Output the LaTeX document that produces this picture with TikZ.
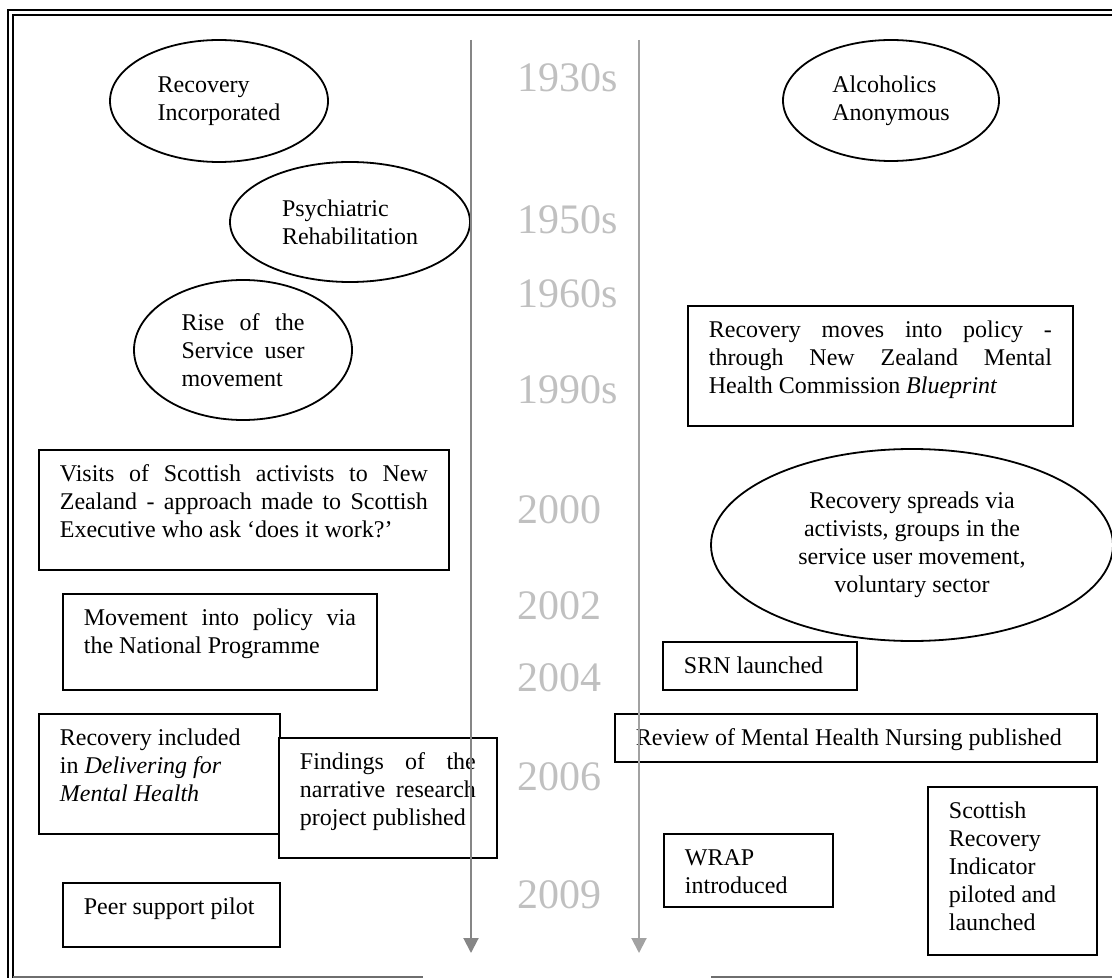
\documentclass[tikz,border=0pt]{standalone}
\usepackage{fontspec}
\setmainfont{Liberation Serif}
\usepackage{xcolor}
\usepackage{tikz}
\usetikzlibrary{shapes,arrows,arrows.meta}
\usetikzlibrary{shapes.geometric}
\definecolor{yeargray}{RGB}{192,192,192}
\definecolor{axisdark}{RGB}{134,134,134}
\definecolor{axislight}{RGB}{162,162,162}
\definecolor{rulegray}{RGB}{110,110,110}
\tikzset{
    ebox/.style={draw, ellipse, inner sep=0pt, line width=0.9pt, font=\fontsize{12}{14}\selectfont},
    tbox/.style={draw, rectangle, fill=white, anchor=north west, inner xsep=10.5pt, inner ysep=0pt, line width=0.9pt, font=\fontsize{12}{14}\selectfont},
    year/.style={anchor=base west, inner sep=0pt, text=yeargray, font=\fontsize{21}{24}\selectfont},
    timeline/.style={line width=1pt, -{Triangle[length=7.5pt,width=7.5pt]}}}
\newcommand{\boxtext}[3]{\parbox[c][#2][t]{#1}{\rule{0pt}{16pt}#3}}

\begin{document}
\begin{tikzpicture}[x=0.5pt,y=-0.5pt]
\useasboundingbox (0,0) rectangle (1112,978);
\draw[line width=1.1pt] (8,978) -- (8,10) -- (1112,10);
\draw[line width=0.7pt] (13,978) -- (13,15) -- (1112,15);
\draw[rulegray, line width=0.6pt] (13,977) -- (423,977);
\draw[rulegray, line width=0.6pt] (711,977) -- (1112,977);
\node[ebox, minimum width=109pt, minimum height=61pt, align=left] (recinc) at (219,101) {Recovery\\Incorporated};
\node[ebox, minimum width=120pt, minimum height=60pt, align=left] (psyreh) at (350,222) {Psychiatric\\Rehabilitation};
\node[ebox, minimum width=109pt, minimum height=70pt] (riseuser) at (243,350) {\parbox{61.5pt}{Rise of the\linebreak Service user\linebreak movement}};
\node[ebox, minimum width=108pt, minimum height=60.5pt, align=left] (alcanon) at (891,100.5) {Alcoholics\\Anonymous};
\node[ebox, minimum width=201pt, minimum height=96pt, align=center] (spreads) at (912,545) {Recovery spreads via\\activists, groups in the\\service user movement,\\voluntary sector};
\node[tbox] (visits) at (38,449) {\boxtext{184pt}{60pt}{Visits of Scottish activists to New\linebreak Zealand - approach made to Scottish\linebreak Executive who ask `does it work?'}};
\node[tbox] (nzpolicy) at (687,305) {\boxtext{171.5pt}{60pt}{Recovery moves into policy -\linebreak through New Zealand Mental\linebreak Health Commission \textit{Blueprint}}};
\node[tbox] (natprog) at (62,593) {\boxtext{136pt}{48pt}{Movement into policy via\linebreak the National Programme}};
\node[tbox] (srn) at (662,641) {\boxtext{76pt}{24pt}{SRN launched}};
\node[tbox] (delivering) at (38,713) {\boxtext{99.5pt}{60pt}{Recovery included\\ in \textit{Delivering for}\\ \textit{Mental Health}}};
\node[tbox] (findings) at (278,737) {\boxtext{88pt}{60pt}{Findings of the\linebreak narrative research\linebreak project published}};
\node[tbox] (review) at (614,713) {\boxtext{220pt}{24pt}{Review of Mental Health Nursing published}};
\node[tbox] (wrap) at (663,833) {\boxtext{63.5pt}{36.5pt}{WRAP\\ introduced}};
\node[tbox] (sri) at (927,786) {\boxtext{63.5pt}{84pt}{Scottish\\ Recovery\\ Indicator\\ piloted and\\ launched}};
\node[tbox] (peer) at (62,882) {\boxtext{87.5pt}{32pt}{Peer support pilot}};
\node[year] (y1930) at (517,92) {1930s};
\node[year] (y1950) at (517,234) {1950s};
\node[year] (y1960) at (517,307) {1960s};
\node[year] (y1990) at (517,403) {1990s};
\node[year] (y2000) at (517,523) {2000};
\node[year] (y2002) at (517,619) {2002};
\node[year] (y2004) at (517,691) {2004};
\node[year] (y2006) at (517,790) {2006};
\node[year] (y2009) at (517,908) {2009};
\coordinate (ltop) at (471,40);
\coordinate (lbot) at (471,953);
\coordinate (rtop) at (639,40);
\coordinate (rbot) at (639,953);
\draw[timeline, axisdark] (ltop) -- (lbot);
\draw[timeline, axislight] (rtop) -- (rbot);
\end{tikzpicture}
\end{document}
